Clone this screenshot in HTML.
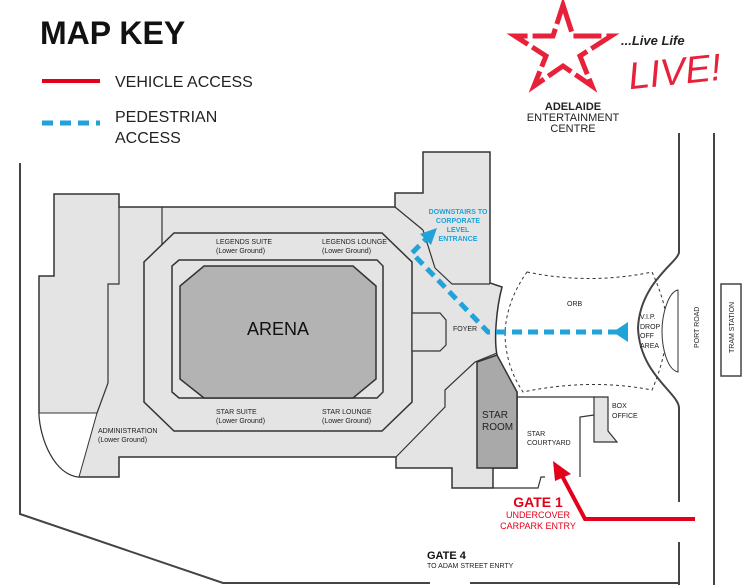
<!DOCTYPE html>
<html><head><meta charset="utf-8"><style>
html,body{margin:0;padding:0;background:#fff;}
svg{display:block;font-family:"Liberation Sans",sans-serif;}
</style></head><body>
<svg width="748" height="585" viewBox="0 0 748 585" xmlns="http://www.w3.org/2000/svg">
<!-- legend -->
<text x="40" y="44" font-size="32" font-weight="bold" fill="#111">MAP KEY</text>
<line x1="42" y1="81" x2="100" y2="81" stroke="#e3001b" stroke-width="4"/>
<text x="115" y="87" font-size="16" fill="#222">VEHICLE ACCESS</text>
<line x1="42" y1="123" x2="100" y2="123" stroke="#1fa3d9" stroke-width="5" stroke-dasharray="11,7"/>
<text x="115" y="122" font-size="16" fill="#222">PEDESTRIAN</text>
<text x="115" y="143" font-size="16" fill="#222">ACCESS</text>

<!-- logo -->
<polygon points="563,5 573,36 611,36 580,56 592,86 563,66 534,86 546,56 515,36 553,36" fill="none" stroke="#e8213a" stroke-width="5" stroke-dasharray="28,5"/>
<text x="573" y="110" font-size="11" font-weight="bold" text-anchor="middle" fill="#222">ADELAIDE</text>
<text x="573" y="121" font-size="11" text-anchor="middle" fill="#222">ENTERTAINMENT</text>
<text x="573" y="132" font-size="11" text-anchor="middle" fill="#222">CENTRE</text>
<text x="621" y="45" font-size="13" font-weight="bold" font-style="italic" fill="#222">...Live Life</text>
<text x="628" y="85" font-size="38" font-style="italic" fill="#e8213a" transform="rotate(-6 670 70)">LIVE!</text>

<!-- site boundary -->
<g stroke="#444" stroke-width="2" fill="none">
<polyline points="20,163 20,514 223,583 430,583"/>
<line x1="470" y1="583" x2="680" y2="583"/>
<path d="M679,133 L679,252 C679,262 640,282 638,328 C640,375 679,393 679,408 L679,502"/>
<line x1="679" y1="542" x2="679" y2="585"/>
<line x1="714" y1="133" x2="714" y2="585"/>
</g>
<rect x="721" y="284" width="20" height="92" fill="#fff" stroke="#444" stroke-width="1.5"/>

<!-- building -->
<path d="M54,194 L119,194 L119,207 L395,207 L395,193 L423,193 L423,152 L490,152 L490,283 L502,287 C496,310 494,340 497,355 C500,370 508,382 517,392 L517,468 L493,468 L493,488 L452,488 L452,468 L396,468 L396,457 L119,457 L119,477 L79,477 C55,475 40,440 39,413 L39,276 L54,276 Z" fill="#e4e4e4" stroke="#333" stroke-width="1.5"/>
<path d="M39,413 L97,413 L79,477 C55,475 40,440 39,413 Z" fill="#fff" stroke="#333" stroke-width="1"/>
<g stroke="#333" stroke-width="1.2" fill="none">
<polyline points="119,207 119,284 108,284 108,383 97,413"/>
<line x1="162" y1="207" x2="162" y2="245"/>
<polyline points="395,207 423,230"/>
<polyline points="435,268 452,284 490,284"/>
<polyline points="396,457 445,407 445,390 475,362 497,353"/>
<line x1="423" y1="230" x2="435" y2="268"/>
</g>
<polygon points="174,233 382,233 412,262 412,402 382,431 174,431 144,402 144,262" fill="#e4e4e4" stroke="#333" stroke-width="1.5"/>
<polygon points="179,260 377,260 383,266 383,392 377,398 179,398 172,392 172,266" fill="#e4e4e4" stroke="#333" stroke-width="1.5"/>
<polygon points="204,266 353,266 376,286 376,379 353,398 204,398 180,379 180,286" fill="#b3b3b3" stroke="#333" stroke-width="1.5"/>
<polygon points="412,313 440,313 446,320 446,345 440,351 412,351" fill="#e4e4e4" stroke="#333" stroke-width="1.2"/>
<polygon points="477,362 497,355 517,392 517,468 477,468" fill="#a9a9a9" stroke="#333" stroke-width="1.5"/>

<!-- courtyard / box office -->
<g stroke="#333" stroke-width="1.2" fill="none">
<polyline points="493,488 538,488 541,477 545,477"/>
<polyline points="580,477 580,417 594,415"/>
<line x1="517" y1="397" x2="594" y2="397"/>
</g>
<polygon points="594,397 608,397 608,431 617,442 594,442" fill="#e4e4e4" stroke="#333" stroke-width="1.2"/>

<!-- orb -->
<path d="M527,272 Q590,285 652,272 Q665,300 668,327 Q665,360 652,390 Q590,378 523,392 Q505,365 505,332 Q507,300 527,272 Z" fill="none" stroke="#333" stroke-width="1" stroke-dasharray="3,3"/>
<path d="M678,290 C668,292 662,315 662,331 C662,350 668,370 678,372 Z" fill="#fff" stroke="#333" stroke-width="1"/>

<!-- pedestrian -->
<g stroke="#1fa3d9" stroke-width="5" fill="none" stroke-dasharray="10,6">
<polyline points="618,332 488,332 412,253 428,237"/>
</g>
<polygon points="613,332 628,322 628,342" fill="#1fa3d9"/>
<polygon points="437,228 420,234 431,245" fill="#1fa3d9"/>

<!-- vehicle -->
<polyline points="695,519 585,519 560,472" stroke="#e3001b" stroke-width="4" fill="none"/>
<polygon points="553,461 571,474 555,481" fill="#e3001b"/>

<!-- labels -->
<g font-size="7" fill="#222">
<text x="216" y="244">LEGENDS SUITE</text><text x="216" y="253">(Lower Ground)</text>
<text x="322" y="244">LEGENDS LOUNGE</text><text x="322" y="253">(Lower Ground)</text>
<text x="216" y="414">STAR SUITE</text><text x="216" y="423">(Lower Ground)</text>
<text x="322" y="414">STAR LOUNGE</text><text x="322" y="423">(Lower Ground)</text>
<text x="98" y="433">ADMINISTRATION</text><text x="98" y="442">(Lower Ground)</text>
<text x="453" y="331">FOYER</text>
<text x="567" y="306">ORB</text>
<text x="640" y="319">V.I.P.</text><text x="640" y="329">DROP</text><text x="640" y="338">OFF</text><text x="640" y="348">AREA</text>
<text x="527" y="436">STAR</text><text x="527" y="445">COURTYARD</text>
<text x="612" y="408">BOX</text><text x="612" y="418">OFFICE</text>
<text x="427" y="568">TO ADAM STREET ENRTY</text>
<text transform="translate(699,348) rotate(-90)">PORT ROAD</text>
<text transform="translate(734,353) rotate(-90)">TRAM STATION</text>
</g>
<g font-size="7" font-weight="bold" fill="#1fa3d9" text-anchor="middle">
<text x="458" y="214">DOWNSTAIRS TO</text><text x="458" y="223">CORPORATE</text><text x="458" y="232">LEVEL</text><text x="458" y="241">ENTRANCE</text>
</g>
<text x="278" y="335" font-size="18" text-anchor="middle" fill="#111">ARENA</text>
<text x="482" y="418" font-size="10" fill="#222">STAR</text>
<text x="482" y="430" font-size="10" fill="#222">ROOM</text>
<text x="538" y="507" font-size="14" font-weight="bold" fill="#e3001b" text-anchor="middle">GATE 1</text>
<text x="538" y="518" font-size="9" fill="#e3001b" text-anchor="middle">UNDERCOVER</text>
<text x="538" y="529" font-size="9" fill="#e3001b" text-anchor="middle">CARPARK ENTRY</text>
<text x="427" y="559" font-size="11" font-weight="bold" fill="#111">GATE 4</text>
</svg>
</body></html>
